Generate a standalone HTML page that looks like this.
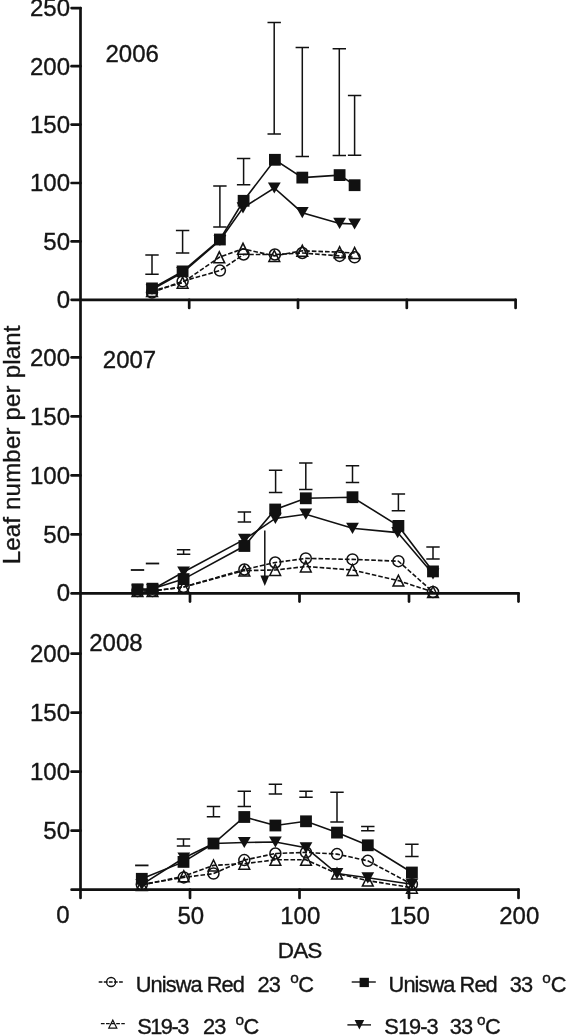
<!DOCTYPE html>
<html lang="en"><head><meta charset="utf-8"><title>Leaf number per plant</title>
<style>html,body{margin:0;padding:0;background:#fff}svg{display:block;filter:blur(0.45px)}text{font-family:"Liberation Sans", sans-serif;fill:#151515;stroke:#151515;stroke-width:0.35px}</style></head><body>
<svg width="566" height="1035" viewBox="0 0 566 1035">
<rect width="566" height="1035" fill="#fff"/>
<g stroke="#111" stroke-width="2.7" fill="none" stroke-linecap="round">
<path d="M80.5 8.1 V897.9"/>
<path d="M71.6 8.1 H80.5"/>
<path d="M71.6 299.8 H515.6"/>
<path d="M71.6 241.4 H80.5"/>
<path d="M71.6 183.0 H80.5"/>
<path d="M71.6 124.6 H80.5"/>
<path d="M71.6 66.2 H80.5"/>
<path d="M189.2 299.8 V308.0"/>
<path d="M298.0 299.8 V308.0"/>
<path d="M406.8 299.8 V308.0"/>
<path d="M515.6 299.8 V308.0"/>
<path d="M71.6 593.4 H518.5"/>
<path d="M71.6 534.4 H80.5"/>
<path d="M71.6 475.4 H80.5"/>
<path d="M71.6 416.4 H80.5"/>
<path d="M71.6 357.4 H80.5"/>
<path d="M190.0 593.4 V601.6"/>
<path d="M299.5 593.4 V601.6"/>
<path d="M409.0 593.4 V601.6"/>
<path d="M518.5 593.4 V601.6"/>
<path d="M71.6 889.7 H518.5"/>
<path d="M71.6 830.7 H80.5"/>
<path d="M71.6 771.7 H80.5"/>
<path d="M71.6 712.7 H80.5"/>
<path d="M71.6 653.7 H80.5"/>
<path d="M190.0 889.7 V897.9"/>
<path d="M299.5 889.7 V897.9"/>
<path d="M409.0 889.7 V897.9"/>
<path d="M518.5 889.7 V897.9"/>
</g>
<g font-size="24" text-anchor="end">
<text x="70" y="307.8">0</text>
<text x="70" y="249.8">50</text>
<text x="70" y="191.4">100</text>
<text x="70" y="133.0">150</text>
<text x="70" y="74.6">200</text>
<text x="70" y="16.2">250</text>
<text x="70" y="601.4">0</text>
<text x="70" y="542.8">50</text>
<text x="70" y="483.8">100</text>
<text x="70" y="424.8">150</text>
<text x="70" y="365.8">200</text>
<text x="70" y="839.1">50</text>
<text x="70" y="780.1">100</text>
<text x="70" y="721.1">150</text>
<text x="70" y="662.1">200</text>
</g>
<g font-size="24" text-anchor="middle">
<text x="190.8" y="923.8">50</text>
<text x="300.3" y="923.8">100</text>
<text x="409.8" y="923.8">150</text>
<text x="519.3" y="923.8">200</text>
<text x="299.6" y="958.2" font-size="22.6" letter-spacing="-1.0">DAS</text>
</g>
<text font-size="24" x="56.3" y="923.4">0</text>
<text font-size="24" x="105.5" y="61.6">2006</text>
<text font-size="24" x="102.8" y="367.7">2007</text>
<text font-size="24" x="89.2" y="650.7">2008</text>
<text font-size="24" text-anchor="middle" letter-spacing="0.2" transform="translate(19.6 444.8) rotate(-90)">Leaf number per plant</text>
<path d="M145.3 255.0 H158.7 M145.3 274.3 H158.7 M152.0 255.0 V274.3" stroke="#111" stroke-width="1.5" fill="none"/>
<path d="M175.9 230.5 H189.3 M175.9 253.0 H189.3 M182.6 230.5 V253.0" stroke="#111" stroke-width="1.5" fill="none"/>
<path d="M213.2 186.0 H226.6 M213.2 227.0 H226.6 M219.9 186.0 V227.0" stroke="#111" stroke-width="1.5" fill="none"/>
<path d="M236.9 158.4 H250.3 M236.9 184.7 H250.3 M243.6 158.4 V184.7" stroke="#111" stroke-width="1.5" fill="none"/>
<path d="M267.5 22.6 H280.9 M267.5 134.0 H280.9 M274.2 22.6 V134.0" stroke="#111" stroke-width="1.5" fill="none"/>
<path d="M295.6 47.4 H309.0 M295.6 156.4 H309.0 M302.3 47.4 V156.4" stroke="#111" stroke-width="1.5" fill="none"/>
<path d="M332.6 48.8 H346.0 M332.6 155.5 H346.0 M339.3 48.8 V155.5" stroke="#111" stroke-width="1.5" fill="none"/>
<path d="M347.9 95.5 H361.3 M347.9 155.3 H361.3 M354.6 95.5 V155.3" stroke="#111" stroke-width="1.5" fill="none"/>
<path d="M152.0 292.5 L182.6 281.3 L219.9 270.6 L243.6 254.5 L274.9 254.5 L302.3 253.0 L339.6 255.9 L354.6 257.3" fill="none" stroke="#111" stroke-width="1.60" stroke-dasharray="4.6 2"/>
<path d="M152.0 291.0 L182.6 282.7 L219.3 257.3 L243.0 248.8 L274.3 255.9 L302.3 250.8 L339.6 252.2 L354.6 253.0" fill="none" stroke="#111" stroke-width="1.60" stroke-dasharray="4.6 2"/>
<path d="M152.0 289.5 L182.6 272.5 L219.9 240.5 L243.0 207.8 L274.3 188.0 L302.3 212.7 L339.6 223.4 L354.6 224.0" fill="none" stroke="#111" stroke-width="1.60"/>
<path d="M152.0 288.4 L182.6 271.4 L219.9 239.5 L243.6 200.8 L274.9 159.8 L302.3 177.6 L339.6 175.1 L354.6 185.2" fill="none" stroke="#111" stroke-width="1.60"/>
<circle cx="152.0" cy="292.5" r="5.5" fill="none" stroke="#111" stroke-width="1.5"/>
<circle cx="182.6" cy="281.3" r="5.5" fill="none" stroke="#111" stroke-width="1.5"/>
<circle cx="219.9" cy="270.6" r="5.5" fill="none" stroke="#111" stroke-width="1.5"/>
<circle cx="243.6" cy="254.5" r="5.5" fill="none" stroke="#111" stroke-width="1.5"/>
<circle cx="274.9" cy="254.5" r="5.5" fill="none" stroke="#111" stroke-width="1.5"/>
<circle cx="302.3" cy="253.0" r="5.5" fill="none" stroke="#111" stroke-width="1.5"/>
<circle cx="339.6" cy="255.9" r="5.5" fill="none" stroke="#111" stroke-width="1.5"/>
<circle cx="354.6" cy="257.3" r="5.5" fill="none" stroke="#111" stroke-width="1.5"/>
<path d="M146.6 296.5 L157.4 296.5 L152.0 285.5 Z" fill="none" stroke="#111" stroke-width="1.5"/>
<path d="M177.2 288.2 L188.0 288.2 L182.6 277.2 Z" fill="none" stroke="#111" stroke-width="1.5"/>
<path d="M213.9 262.8 L224.7 262.8 L219.3 251.8 Z" fill="none" stroke="#111" stroke-width="1.5"/>
<path d="M237.6 254.3 L248.4 254.3 L243.0 243.3 Z" fill="none" stroke="#111" stroke-width="1.5"/>
<path d="M268.9 261.4 L279.7 261.4 L274.3 250.4 Z" fill="none" stroke="#111" stroke-width="1.5"/>
<path d="M296.9 256.3 L307.7 256.3 L302.3 245.3 Z" fill="none" stroke="#111" stroke-width="1.5"/>
<path d="M334.2 257.7 L345.0 257.7 L339.6 246.7 Z" fill="none" stroke="#111" stroke-width="1.5"/>
<path d="M349.2 258.5 L360.0 258.5 L354.6 247.5 Z" fill="none" stroke="#111" stroke-width="1.5"/>
<path d="M145.6 283.9 L158.4 283.9 L152.0 295.1 Z" fill="#111"/>
<path d="M176.2 266.9 L189.0 266.9 L182.6 278.1 Z" fill="#111"/>
<path d="M213.5 234.9 L226.3 234.9 L219.9 246.1 Z" fill="#111"/>
<path d="M236.6 202.2 L249.4 202.2 L243.0 213.4 Z" fill="#111"/>
<path d="M267.9 182.4 L280.7 182.4 L274.3 193.6 Z" fill="#111"/>
<path d="M295.9 207.1 L308.7 207.1 L302.3 218.3 Z" fill="#111"/>
<path d="M333.2 217.8 L346.0 217.8 L339.6 229.0 Z" fill="#111"/>
<path d="M348.2 218.4 L361.0 218.4 L354.6 229.6 Z" fill="#111"/>
<rect x="146.1" y="282.5" width="11.8" height="11.8" fill="#111"/>
<rect x="176.7" y="265.5" width="11.8" height="11.8" fill="#111"/>
<rect x="214.0" y="233.6" width="11.8" height="11.8" fill="#111"/>
<rect x="237.7" y="194.9" width="11.8" height="11.8" fill="#111"/>
<rect x="269.0" y="153.9" width="11.8" height="11.8" fill="#111"/>
<rect x="296.4" y="171.7" width="11.8" height="11.8" fill="#111"/>
<rect x="333.7" y="169.2" width="11.8" height="11.8" fill="#111"/>
<rect x="348.7" y="179.3" width="11.8" height="11.8" fill="#111"/>
<path d="M130.8 570.0 H144.2" stroke="#111" stroke-width="1.8" fill="none"/>
<path d="M145.8 563.5 H159.2" stroke="#111" stroke-width="1.8" fill="none"/>
<path d="M176.9 549.8 H190.3 M176.9 554.2 H190.3 M183.6 549.8 V554.2" stroke="#111" stroke-width="1.5" fill="none"/>
<path d="M237.7 512.1 H251.1 M237.7 522.0 H251.1 M244.4 512.1 V522.0" stroke="#111" stroke-width="1.5" fill="none"/>
<path d="M268.9 470.3 H282.3 M268.9 492.6 H282.3 M275.6 470.3 V492.6" stroke="#111" stroke-width="1.5" fill="none"/>
<path d="M299.1 463.0 H312.5 M299.1 489.5 H312.5 M305.8 463.0 V489.5" stroke="#111" stroke-width="1.5" fill="none"/>
<path d="M345.8 465.8 H359.2 M345.8 482.4 H359.2 M352.5 465.8 V482.4" stroke="#111" stroke-width="1.5" fill="none"/>
<path d="M391.7 494.0 H405.1 M391.7 510.7 H405.1 M398.4 494.0 V510.7" stroke="#111" stroke-width="1.5" fill="none"/>
<path d="M426.3 547.0 H439.7 M426.3 559.0 H439.7 M433.0 547.0 V559.0" stroke="#111" stroke-width="1.5" fill="none"/>
<path d="M137.5 591.0 L152.5 591.0 L183.6 587.0 L244.4 569.5 L275.2 562.5 L305.8 558.4 L352.5 559.4 L398.4 561.2 L433.0 592.0" fill="none" stroke="#111" stroke-width="1.60" stroke-dasharray="4.6 2"/>
<path d="M137.5 591.0 L152.5 591.0 L183.6 587.0 L244.4 570.6 L275.2 570.0 L305.8 566.5 L352.5 570.0 L398.4 580.6 L433.0 592.0" fill="none" stroke="#111" stroke-width="1.60" stroke-dasharray="4.6 2"/>
<path d="M137.5 590.0 L152.5 589.5 L183.6 572.0 L244.4 539.4 L275.4 518.4 L305.8 514.2 L352.5 528.3 L397.7 532.6 L433.0 574.0" fill="none" stroke="#111" stroke-width="1.60"/>
<path d="M137.5 589.3 L152.5 588.7 L183.6 579.1 L244.4 546.0 L275.2 509.5 L305.8 498.3 L352.5 497.2 L398.4 525.9 L433.0 571.4" fill="none" stroke="#111" stroke-width="1.60"/>
<circle cx="137.5" cy="591.0" r="5.5" fill="none" stroke="#111" stroke-width="1.5"/>
<circle cx="152.5" cy="591.0" r="5.5" fill="none" stroke="#111" stroke-width="1.5"/>
<circle cx="183.6" cy="587.0" r="5.5" fill="none" stroke="#111" stroke-width="1.5"/>
<circle cx="244.4" cy="569.5" r="5.5" fill="none" stroke="#111" stroke-width="1.5"/>
<circle cx="275.2" cy="562.5" r="5.5" fill="none" stroke="#111" stroke-width="1.5"/>
<circle cx="305.8" cy="558.4" r="5.5" fill="none" stroke="#111" stroke-width="1.5"/>
<circle cx="352.5" cy="559.4" r="5.5" fill="none" stroke="#111" stroke-width="1.5"/>
<circle cx="398.4" cy="561.2" r="5.5" fill="none" stroke="#111" stroke-width="1.5"/>
<circle cx="433.0" cy="592.0" r="5.5" fill="none" stroke="#111" stroke-width="1.5"/>
<path d="M132.1 596.5 L142.9 596.5 L137.5 585.5 Z" fill="none" stroke="#111" stroke-width="1.5"/>
<path d="M147.1 596.5 L157.9 596.5 L152.5 585.5 Z" fill="none" stroke="#111" stroke-width="1.5"/>
<path d="M178.2 592.5 L189.0 592.5 L183.6 581.5 Z" fill="none" stroke="#111" stroke-width="1.5"/>
<path d="M239.0 576.1 L249.8 576.1 L244.4 565.1 Z" fill="none" stroke="#111" stroke-width="1.5"/>
<path d="M269.8 575.5 L280.6 575.5 L275.2 564.5 Z" fill="none" stroke="#111" stroke-width="1.5"/>
<path d="M300.4 572.0 L311.2 572.0 L305.8 561.0 Z" fill="none" stroke="#111" stroke-width="1.5"/>
<path d="M347.1 575.5 L357.9 575.5 L352.5 564.5 Z" fill="none" stroke="#111" stroke-width="1.5"/>
<path d="M393.0 586.1 L403.8 586.1 L398.4 575.1 Z" fill="none" stroke="#111" stroke-width="1.5"/>
<path d="M427.6 597.5 L438.4 597.5 L433.0 586.5 Z" fill="none" stroke="#111" stroke-width="1.5"/>
<path d="M131.1 584.4 L143.9 584.4 L137.5 595.6 Z" fill="#111"/>
<path d="M146.1 583.9 L158.9 583.9 L152.5 595.1 Z" fill="#111"/>
<path d="M177.2 566.4 L190.0 566.4 L183.6 577.6 Z" fill="#111"/>
<path d="M238.0 533.8 L250.8 533.8 L244.4 545.0 Z" fill="#111"/>
<path d="M269.0 512.8 L281.8 512.8 L275.4 524.0 Z" fill="#111"/>
<path d="M299.4 508.6 L312.2 508.6 L305.8 519.8 Z" fill="#111"/>
<path d="M346.1 522.7 L358.9 522.7 L352.5 533.9 Z" fill="#111"/>
<path d="M391.3 527.0 L404.1 527.0 L397.7 538.2 Z" fill="#111"/>
<path d="M426.6 568.4 L439.4 568.4 L433.0 579.6 Z" fill="#111"/>
<rect x="131.6" y="583.4" width="11.8" height="11.8" fill="#111"/>
<rect x="146.6" y="582.8" width="11.8" height="11.8" fill="#111"/>
<rect x="177.7" y="573.2" width="11.8" height="11.8" fill="#111"/>
<rect x="238.5" y="540.1" width="11.8" height="11.8" fill="#111"/>
<rect x="269.3" y="503.6" width="11.8" height="11.8" fill="#111"/>
<rect x="299.9" y="492.4" width="11.8" height="11.8" fill="#111"/>
<rect x="346.6" y="491.3" width="11.8" height="11.8" fill="#111"/>
<rect x="392.5" y="520.0" width="11.8" height="11.8" fill="#111"/>
<rect x="427.1" y="565.5" width="11.8" height="11.8" fill="#111"/>
<path d="M135.1 865.4 H148.5" stroke="#111" stroke-width="1.8" fill="none"/>
<path d="M176.8 838.9 H190.2 M176.8 846.0 H190.2 M183.5 838.9 V846.0" stroke="#111" stroke-width="1.5" fill="none"/>
<path d="M206.8 806.4 H220.2 M206.8 816.7 H220.2 M213.5 806.4 V816.7" stroke="#111" stroke-width="1.5" fill="none"/>
<path d="M237.6 791.2 H251.0 M237.6 806.4 H251.0 M244.3 791.2 V806.4" stroke="#111" stroke-width="1.5" fill="none"/>
<path d="M268.7 784.2 H282.1 M268.7 793.9 H282.1 M275.4 784.2 V793.9" stroke="#111" stroke-width="1.5" fill="none"/>
<path d="M299.3 791.2 H312.7 M299.3 797.2 H312.7 M306.0 791.2 V797.2" stroke="#111" stroke-width="1.5" fill="none"/>
<path d="M330.3 792.3 H343.7 M330.3 822.0 H343.7 M337.0 792.3 V822.0" stroke="#111" stroke-width="1.5" fill="none"/>
<path d="M361.1 826.6 H374.5 M361.1 830.8 H374.5 M367.8 826.6 V830.8" stroke="#111" stroke-width="1.5" fill="none"/>
<path d="M405.2 844.2 H418.6 M405.2 856.6 H418.6 M411.9 844.2 V856.6" stroke="#111" stroke-width="1.5" fill="none"/>
<path d="M141.8 884.5 L183.8 877.4 L213.5 873.6 L244.3 860.1 L275.4 853.5 L306.0 852.4 L337.0 854.1 L367.8 860.8 L411.9 884.2" fill="none" stroke="#111" stroke-width="1.60" stroke-dasharray="4.6 2"/>
<path d="M141.8 885.0 L183.8 876.2 L213.5 865.4 L244.3 863.7 L275.4 859.8 L306.0 859.8 L337.0 873.6 L367.8 880.6 L411.9 887.7" fill="none" stroke="#111" stroke-width="1.60" stroke-dasharray="4.6 2"/>
<path d="M141.8 884.6 L183.8 858.0 L213.5 843.5 L244.3 842.5 L275.4 842.0 L306.0 847.8 L337.0 873.6 L367.8 877.8 L411.9 884.2" fill="none" stroke="#111" stroke-width="1.60"/>
<path d="M141.8 878.8 L183.5 861.9 L213.5 843.5 L244.3 817.0 L275.4 825.5 L306.0 821.3 L337.0 832.6 L367.8 845.3 L411.9 872.5" fill="none" stroke="#111" stroke-width="1.60"/>
<circle cx="141.8" cy="884.5" r="5.5" fill="none" stroke="#111" stroke-width="1.5"/>
<circle cx="183.8" cy="877.4" r="5.5" fill="none" stroke="#111" stroke-width="1.5"/>
<circle cx="213.5" cy="873.6" r="5.5" fill="none" stroke="#111" stroke-width="1.5"/>
<circle cx="244.3" cy="860.1" r="5.5" fill="none" stroke="#111" stroke-width="1.5"/>
<circle cx="275.4" cy="853.5" r="5.5" fill="none" stroke="#111" stroke-width="1.5"/>
<circle cx="306.0" cy="852.4" r="5.5" fill="none" stroke="#111" stroke-width="1.5"/>
<circle cx="337.0" cy="854.1" r="5.5" fill="none" stroke="#111" stroke-width="1.5"/>
<circle cx="367.8" cy="860.8" r="5.5" fill="none" stroke="#111" stroke-width="1.5"/>
<circle cx="411.9" cy="884.2" r="5.5" fill="none" stroke="#111" stroke-width="1.5"/>
<path d="M136.4 890.5 L147.2 890.5 L141.8 879.5 Z" fill="none" stroke="#111" stroke-width="1.5"/>
<path d="M178.4 881.7 L189.2 881.7 L183.8 870.7 Z" fill="none" stroke="#111" stroke-width="1.5"/>
<path d="M208.1 870.9 L218.9 870.9 L213.5 859.9 Z" fill="none" stroke="#111" stroke-width="1.5"/>
<path d="M238.9 869.2 L249.7 869.2 L244.3 858.2 Z" fill="none" stroke="#111" stroke-width="1.5"/>
<path d="M270.0 865.3 L280.8 865.3 L275.4 854.3 Z" fill="none" stroke="#111" stroke-width="1.5"/>
<path d="M300.6 865.3 L311.4 865.3 L306.0 854.3 Z" fill="none" stroke="#111" stroke-width="1.5"/>
<path d="M331.6 879.1 L342.4 879.1 L337.0 868.1 Z" fill="none" stroke="#111" stroke-width="1.5"/>
<path d="M362.4 886.1 L373.2 886.1 L367.8 875.1 Z" fill="none" stroke="#111" stroke-width="1.5"/>
<path d="M406.5 893.2 L417.3 893.2 L411.9 882.2 Z" fill="none" stroke="#111" stroke-width="1.5"/>
<path d="M135.4 879.0 L148.2 879.0 L141.8 890.2 Z" fill="#111"/>
<path d="M177.4 852.4 L190.2 852.4 L183.8 863.6 Z" fill="#111"/>
<path d="M207.1 837.9 L219.9 837.9 L213.5 849.1 Z" fill="#111"/>
<path d="M237.9 836.9 L250.7 836.9 L244.3 848.1 Z" fill="#111"/>
<path d="M269.0 836.4 L281.8 836.4 L275.4 847.6 Z" fill="#111"/>
<path d="M299.6 842.2 L312.4 842.2 L306.0 853.4 Z" fill="#111"/>
<path d="M330.6 868.0 L343.4 868.0 L337.0 879.2 Z" fill="#111"/>
<path d="M361.4 872.2 L374.2 872.2 L367.8 883.4 Z" fill="#111"/>
<path d="M405.5 878.6 L418.3 878.6 L411.9 889.8 Z" fill="#111"/>
<rect x="135.9" y="872.9" width="11.8" height="11.8" fill="#111"/>
<rect x="177.6" y="856.0" width="11.8" height="11.8" fill="#111"/>
<rect x="207.6" y="837.6" width="11.8" height="11.8" fill="#111"/>
<rect x="238.4" y="811.1" width="11.8" height="11.8" fill="#111"/>
<rect x="269.5" y="819.6" width="11.8" height="11.8" fill="#111"/>
<rect x="300.1" y="815.4" width="11.8" height="11.8" fill="#111"/>
<rect x="331.1" y="826.7" width="11.8" height="11.8" fill="#111"/>
<rect x="361.9" y="839.4" width="11.8" height="11.8" fill="#111"/>
<rect x="406.0" y="866.6" width="11.8" height="11.8" fill="#111"/>
<path d="M264.8 530.5 V578" stroke="#111" stroke-width="1.5" fill="none"/>
<path d="M260.4 575.5 H269.2 L264.8 586 Z" fill="#111"/>
<path d="M98.7 982 H123.4" stroke="#111" stroke-width="1.3" stroke-dasharray="3.7 1.4" fill="none"/>
<circle cx="111.1" cy="982" r="4.5" fill="none" stroke="#111" stroke-width="1.3"/>
<text font-size="21.8" letter-spacing="-0.93" y="992.0"><tspan x="135.8">Uniswa Red</tspan> <tspan x="257.6">23</tspan> <tspan x="290.2" dy="-8.6" font-size="15.4" letter-spacing="0">o</tspan><tspan x="298.3" dy="8.6">C</tspan></text>
<path d="M100.9 1023.7 H124.8" stroke="#111" stroke-width="1.3" stroke-dasharray="3.7 1.4" fill="none"/>
<path d="M108.8 1028.1 H116.8 L112.8 1020.2 Z" fill="none" stroke="#111" stroke-width="1.2"/>
<text font-size="21.8" letter-spacing="-0.93" y="1033.6"><tspan x="137.2" letter-spacing="-1.50">S19-3</tspan> <tspan x="203.0">23</tspan> <tspan x="235.4" dy="-8.6" font-size="15.4" letter-spacing="0">o</tspan><tspan x="243.5" dy="8.6">C</tspan></text>
<path d="M351.7 982 H375.8" stroke="#111" stroke-width="1.4" fill="none"/>
<rect x="359.6" y="977.8" width="9.3" height="9.3" fill="#111"/>
<text font-size="21.8" letter-spacing="-0.93" y="992.0"><tspan x="388.6">Uniswa Red</tspan> <tspan x="509.8">33</tspan> <tspan x="542.3" dy="-8.6" font-size="15.4" letter-spacing="0">o</tspan><tspan x="550.8" dy="8.6">C</tspan></text>
<path d="M347.4 1024.9 H371" stroke="#111" stroke-width="1.4" fill="none"/>
<path d="M354.6 1020.1 L364.2 1020.1 L359.4 1029.5 Z" fill="#111"/>
<text font-size="21.8" letter-spacing="-0.93" y="1033.6"><tspan x="384.3">S19-3</tspan> <tspan x="449.8">33</tspan> <tspan x="477.0" dy="-8.6" font-size="15.4" letter-spacing="0">o</tspan><tspan x="485.1" dy="8.6">C</tspan></text>
</svg></body></html>
